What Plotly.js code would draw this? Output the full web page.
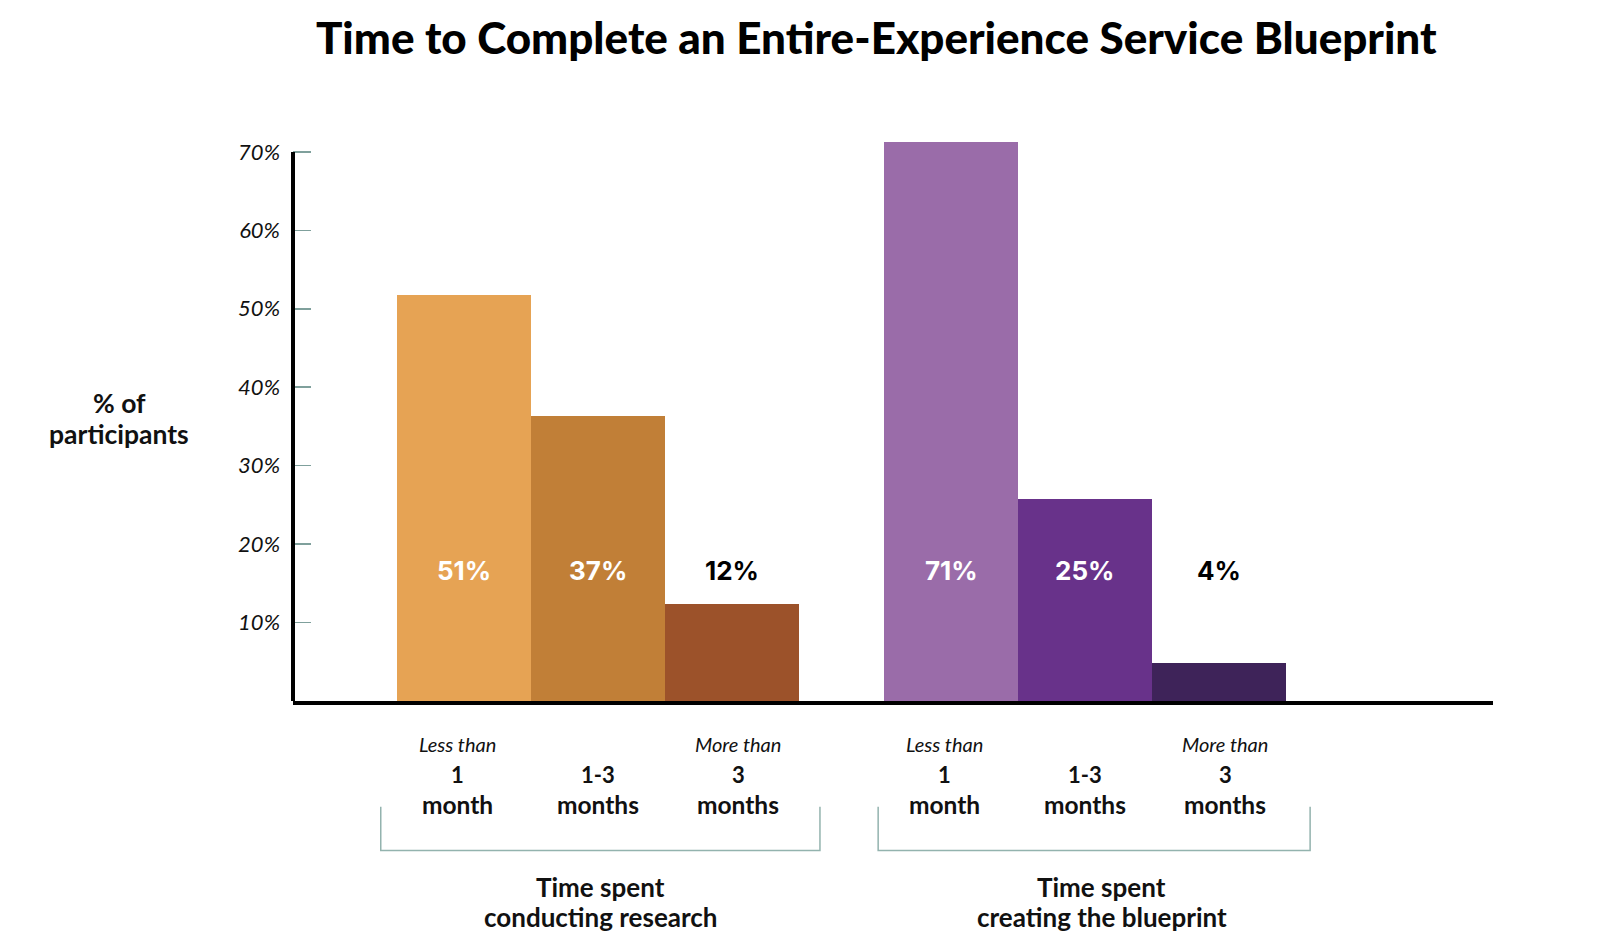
<!DOCTYPE html>
<html><head><meta charset="utf-8">
<script src="https://cdn.plot.ly/plotly-3.0.1.min.js"></script>
<style>html,body{margin:0;padding:0;background:#fff}#chart{width:1600px;height:946px}</style>
</head><body><div id="chart"></div>
<script>
const groups = [["Time spent", "conducting research"], ["Time spent", "creating the blueprint"]];
const catTop = ["Less than", "", "More than"];
const catNum = ["1", "1-3", "3"];
const catUnit = ["month", "months", "months"];
// bar heights as drawn in the picture (% of participants)
const researchValues = [51.7, 36.3, 12.4];
const blueprintValues = [71.3, 25.7, 4.9];
// printed labels
const researchLabels = ["51%", "37%", "12%"];
const blueprintLabels = ["71%", "25%", "4%"];
const yTitle = ["% of", "participants"];
const yTickVals = [10, 20, 30, 40, 50, 60, 70];
const yTickText = ["10%", "20%", "30%", "40%", "50%", "60%", "70%"];

const colors = [["#E6A354", "#C17F37", "#9C522A"], ["#9A6CA9", "#68328A", "#3E2359"]];
const series = [researchValues, blueprintValues];
const labels = [researchLabels, blueprintLabels];
const FONT = "Lato, 'Open Sans', sans-serif";
const start = 1.279, groupStep = 3.641, labelSpread = 1.05;
const pads = [[-0.123, 0.160], [-0.046, 0.183]];
const titleShift = [0.02, 0.126];
const groupTitleY = [-0.3329, -0.3857];
const yTitleY = [0.5318, 0.4771];

const traces = [];
const annotations = [];
const shapes = [];
function lab(x, y, text, size, extra, xref) {
  annotations.push(Object.assign({x: x, y: y, xref: xref || 'x', yref: 'paper', text: text, showarrow: false,
    xanchor: 'center', yanchor: 'middle',
    font: Object.assign({family: FONT, size: size, weight: 700, color: '#111'}, extra || {})}));
}
series.forEach((vals, g) => {
  const xs = vals.map((v, i) => start + g * groupStep + i);
  traces.push({
    type: 'bar', x: xs, y: vals, width: 1,
    marker: {color: colors[g], line: {width: 0}},
    hoverinfo: 'none', showlegend: false
  });
  xs.forEach((x, i) => {
    annotations.push({x: x, y: 16.7, xref: 'x', yref: 'y', text: labels[g][i], showarrow: false,
      xanchor: 'center', yanchor: 'middle',
      font: {family: "Inter, 'Noto Sans', sans-serif", size: 26, weight: 700, color: i < 2 ? '#ffffff' : '#000000'}});
    const lx = xs[1] + (i - 1) * labelSpread;
    if (catTop[i]) lab(lx, -0.0775, catTop[i], 20, {weight: 400, style: 'italic'});
    lab(lx, -0.132, catNum[i], 22);
    lab(lx, -0.185, catUnit[i], 24.5);
  });
  const x0 = xs[0] - 0.5 + pads[g][0], x1 = xs[2] + 0.5 + pads[g][1];
  const lc = {color: '#93b3ae', width: 1.5};
  shapes.push({type: 'path', xref: 'x', yref: 'paper',
    path: `M ${x0} -0.1888 L ${x0} -0.267 L ${x1} -0.267 L ${x1} -0.1888`, line: lc});
  groups[g].forEach((t, k) => lab(xs[1] + titleShift[g], groupTitleY[k], t, 26));
});

shapes.push({type: 'line', xref: 'paper', yref: 'y', x0: 0, x1: 0, y0: 0, y1: 70,
  line: {color: '#000', width: 4}});

yTitle.forEach((t, k) => lab(-0.1447, yTitleY[k], t, 26.5, {}, 'paper'));

const layout = {
  width: 1600, height: 946,
  margin: {l: 293.2, r: 106.6, t: 141.3, b: 244.7},
  paper_bgcolor: '#fff', plot_bgcolor: '#fff',
  title: {text: 'Time to Complete an Entire-Experience Service Blueprint', x: 0.5477, xanchor: 'center',
    y: 0.959, yanchor: 'middle', yref: 'container',
    font: {family: FONT, size: 44, weight: 900, color: '#000'}},
  xaxis: {range: [0, 8.97], showgrid: false, zeroline: false, showticklabels: false, ticks: '',
    showline: true, linecolor: '#000', linewidth: 3.5, fixedrange: true},
  yaxis: {range: [0, 71.39], showgrid: false, zeroline: false, showline: false,
    tickvals: yTickVals, ticktext: yTickText, ticks: 'inside', ticklen: 18, tickwidth: 1.5, tickcolor: '#7fa09c',
    ticklabelstandoff: 12,
    tickfont: {family: FONT, size: 22, style: 'italic', color: '#111'}, fixedrange: true},
  bargap: 0,
  annotations: annotations,
  shapes: shapes
};
Plotly.newPlot('chart', traces, layout, {displayModeBar: false, staticPlot: true});
</script></body></html>
